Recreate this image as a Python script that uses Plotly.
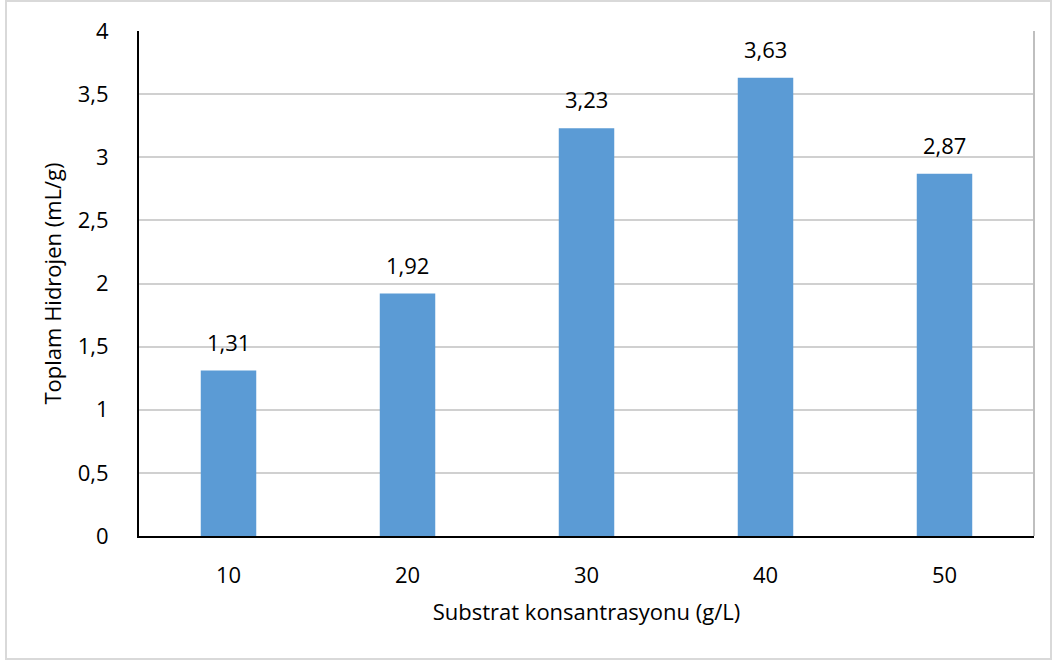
import plotly.graph_objects as go

# Substrate concentration (g/L) and total hydrogen yield (mL/g)
concentrations = ["10", "20", "30", "40", "50"]
hydrogen = [1.31, 1.92, 3.23, 3.63, 2.87]
y_ticks = [0, 0.5, 1, 1.5, 2, 2.5, 3, 3.5, 4]

FONT = "Open Sans"
SIZE = 22
BAR_COLOR = "#5B9BD5"
GRID = "#d0d0d0"

fig = go.Figure()
fig.add_trace(go.Bar(
    x=concentrations,
    y=hydrogen,
    marker=dict(color=BAR_COLOR, line=dict(width=0)),
    hoverinfo="x+y",
))

# value labels above each bar (category axis: position by index)
for i, v in enumerate(hydrogen):
    fig.add_annotation(
        x=i, y=v, xref="x", yref="y",
        text=f"{v:.2f}".replace(".", ","),
        showarrow=False, yanchor="bottom", yshift=12,
        font=dict(family=FONT, size=SIZE, color="#000000"),
    )

# outer chart frame
fig.add_shape(type="rect", xref="paper", yref="paper",
              x0=(6 - 139) / 895, x1=(1051 - 139) / 895,
              y0=(536 - 659) / 505, y1=(536 - 1) / 505,
              line=dict(color="#d9d9d9", width=2), layer="below")
# plot area right border
fig.add_shape(type="line", xref="paper", yref="paper",
              x0=1, x1=1, y0=0, y1=1,
              line=dict(color="#bfbfbf", width=2))

fig.update_layout(
    width=1055, height=661,
    margin=dict(l=139, r=21, t=31, b=125),
    paper_bgcolor="white", plot_bgcolor="white",
    separators=", ",
    bargap=0.69,
    showlegend=False,
    font=dict(family=FONT, size=SIZE, color="#000000"),
    xaxis=dict(
        type="category", range=[-0.5, 4.5],
        showline=True, linecolor="#000000", linewidth=2,
        showgrid=False, ticks="", ticklabelstandoff=19,
        tickfont=dict(family=FONT, size=SIZE),
        title=dict(text="Substrat konsantrasyonu (g/L)", standoff=16,
                   font=dict(family=FONT, size=SIZE)),
    ),
    yaxis=dict(
        range=[0, 4], tickvals=y_ticks,
        showline=True, linecolor="#000000", linewidth=2,
        showgrid=True, gridcolor=GRID, gridwidth=1.5,
        zeroline=False, ticks="", ticklabelstandoff=24,
        tickfont=dict(family=FONT, size=SIZE),
        title=dict(text="Toplam Hidrojen (mL/g)", standoff=10,
                   font=dict(family=FONT, size=SIZE)),
    ),
)

fig.write_html("out.html")
